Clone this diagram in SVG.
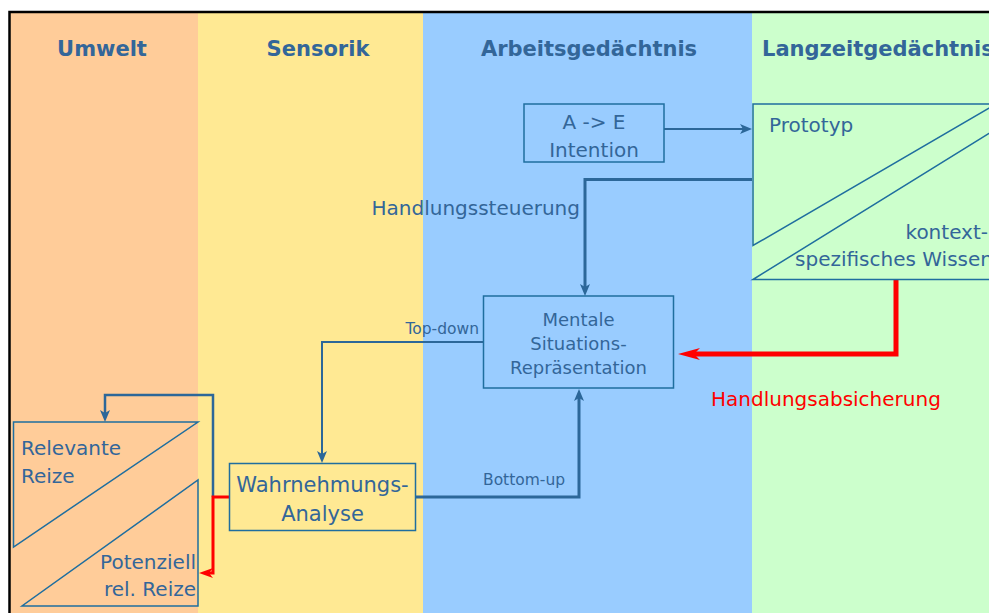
<svg xmlns="http://www.w3.org/2000/svg" width="989" height="613" viewBox="0 0 989 613">
  <style>
    .head { font-family: "DejaVu Sans", Verdana, sans-serif; font-weight: bold; font-size: 21px; fill: #336699; }
    .txt { font-family: "DejaVu Sans", Verdana, sans-serif; font-size: 20px; fill: #336699; }
    .small { font-family: "DejaVu Sans", Verdana, sans-serif; font-size: 15.5px; fill: #336699; }
    .mid { font-family: "DejaVu Sans", Verdana, sans-serif; font-size: 18px; fill: #336699; }
    .red { fill: #FF0000; }
    .box { fill: none; stroke: #1F6E9F; stroke-width: 1.5; }
    .conn { fill: none; stroke: #2C6799; stroke-linejoin: miter; }
    .rconn { fill: none; stroke: #FF0000; stroke-linejoin: miter; }
  </style>
  <defs>
    <!-- tips sit past the path end so the stroke does not poke through -->
    <marker id="arrowBlue" markerUnits="userSpaceOnUse" markerWidth="13" markerHeight="10" refX="5" refY="5" orient="auto">
      <path d="M0,0 L12,5 L0,10 L3,5 Z" fill="#2C6799"/>
    </marker>
    <marker id="arrowRedBig" markerUnits="userSpaceOnUse" markerWidth="23" markerHeight="13" refX="10" refY="6" orient="auto">
      <path d="M0,0 L22,6 L0,12 L6,6 Z" fill="#FF0000"/>
    </marker>
    <marker id="arrowRedSmall" markerUnits="userSpaceOnUse" markerWidth="15" markerHeight="11" refX="6" refY="5" orient="auto">
      <path d="M0,0 L14,5 L0,10 L4,5 Z" fill="#FF0000"/>
    </marker>
  </defs>

  <!-- background and swimlane columns -->
  <rect x="0" y="0" width="989" height="613" fill="#FFFFFF"/>
  <g id="lanes">
    <rect x="10" y="12" width="188" height="601" fill="#FFCC99"/>
    <rect x="198" y="12" width="225" height="601" fill="#FFE993"/>
    <rect x="423" y="12" width="329" height="601" fill="#99CCFF"/>
    <rect x="752" y="12" width="237" height="601" fill="#CCFFCC"/>
    <path d="M9.5,613 V12 H989" fill="none" stroke="#000000" stroke-width="2.5"/>
  </g>

  <g id="headings">
    <text class="head" x="102" y="56" text-anchor="middle">Umwelt</text>
    <text class="head" x="318" y="56" text-anchor="middle">Sensorik</text>
    <text class="head" x="589" y="56" text-anchor="middle">Arbeitsgedächtnis</text>
    <text class="head" x="762" y="56">Langzeitgedächtnis</text>
  </g>

  <!-- connectors -->
  <g id="connectors">
    <path class="conn" d="M664,129 H745" stroke-width="2" marker-end="url(#arrowBlue)"/>
    <path class="conn" d="M752,179.5 H585 V289" stroke-width="3" marker-end="url(#arrowBlue)"/>
    <path class="conn" d="M483,342 H322 V456" stroke-width="2" marker-end="url(#arrowBlue)"/>
    <path class="conn" d="M416,497 H579 V396" stroke-width="3" marker-end="url(#arrowBlue)"/>
    <path class="conn" d="M213,497 V395 H105 V415" stroke-width="2.5" marker-end="url(#arrowBlue)"/>
    <path class="rconn" d="M229,497 H213 V573 H207" stroke-width="3" marker-end="url(#arrowRedSmall)"/>
    <path class="rconn" d="M896,279 V354 H690" stroke-width="5" marker-end="url(#arrowRedBig)"/>
    <text class="txt" x="580" y="215" text-anchor="end">Handlungssteuerung</text>
    <text class="small" x="479" y="334" text-anchor="end">Top-down</text>
    <text class="small" x="483" y="485">Bottom-up</text>
    <text class="txt red" x="711" y="406">Handlungsabsicherung</text>
  </g>

  <g id="intention">
    <rect class="box" x="524" y="104" width="140" height="58"/>
    <text class="txt" x="594" y="129" text-anchor="middle">A -&gt; E</text>
    <text class="txt" x="594" y="157" text-anchor="middle">Intention</text>
  </g>

  <g id="prototyp">
    <path class="box" d="M753,104 H996 L753,245.5 Z"/>
    <path class="box" d="M753,279.5 L1010,120.3 V279.5 Z"/>
    <text class="txt" x="769" y="131.5">Prototyp</text>
    <text class="txt" x="988" y="238.5" text-anchor="end">kontext-</text>
    <text class="txt" x="993" y="266" text-anchor="end">spezifisches Wissen</text>
  </g>

  <g id="mentale-repraesentation">
    <rect class="box" x="483.5" y="296" width="190" height="92"/>
    <text class="mid" x="578.5" y="326" text-anchor="middle">Mentale</text>
    <text class="mid" x="578.5" y="350" text-anchor="middle">Situations-</text>
    <text class="mid" x="578.5" y="374" text-anchor="middle">Repräsentation</text>
  </g>

  <g id="wahrnehmungsanalyse">
    <rect class="box" x="229.5" y="463.5" width="186" height="67"/>
    <text class="txt" x="322.5" y="492" text-anchor="middle" style="font-size:21px">Wahrnehmungs-</text>
    <text class="txt" x="322.5" y="521" text-anchor="middle" style="font-size:21px">Analyse</text>
  </g>

  <g id="reize">
    <path class="box" d="M13.5,422 H198 L13.5,547 Z"/>
    <path class="box" d="M198,480 V606 H22 Z"/>
    <text class="txt" x="21" y="455">Relevante</text>
    <text class="txt" x="21" y="483">Reize</text>
    <text class="txt" x="196" y="569" text-anchor="end">Potenziell</text>
    <text class="txt" x="196" y="596" text-anchor="end">rel. Reize</text>
  </g>
</svg>
